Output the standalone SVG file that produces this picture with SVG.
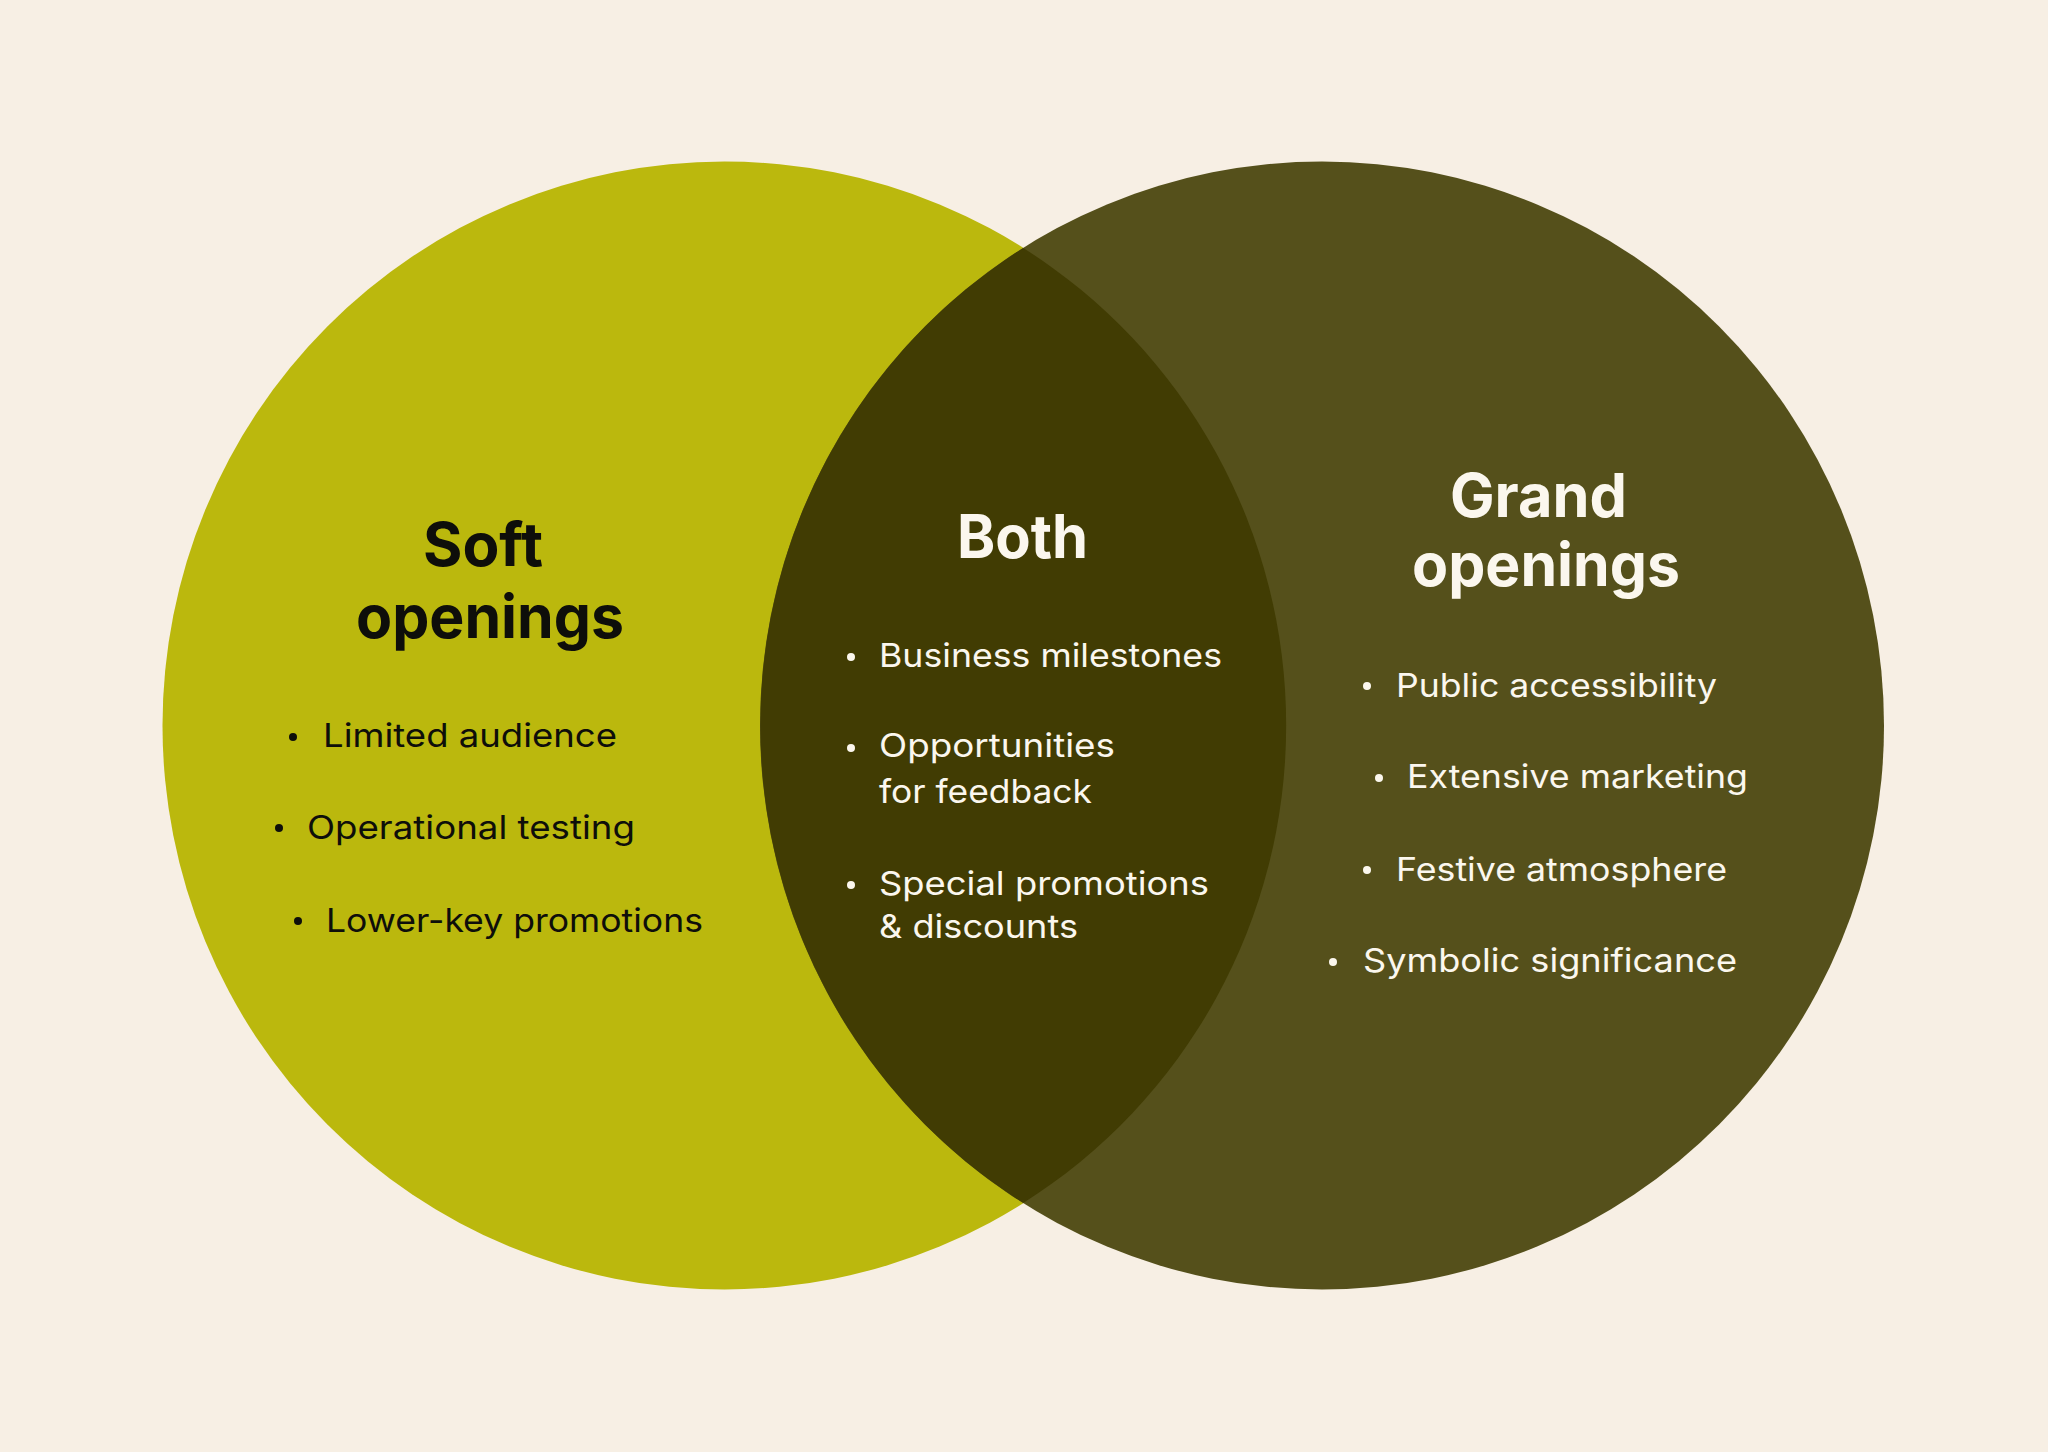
<svg xmlns="http://www.w3.org/2000/svg" width="2048" height="1452" viewBox="0 0 2048 1452">
<style>
.title{font-family:"Inter","Liberation Sans",Arial,sans-serif;font-weight:700;font-size:60px}
.item{font-family:"Inter","Liberation Sans",Arial,sans-serif;font-weight:400;font-size:33px}
.dark{fill:#0e0e0a}
.light{fill:#fbf7ee}
</style>
<rect x="0" y="0" width="2048" height="1452" fill="#f7efe4"/>
<g id="soft-openings">
<ellipse cx="724.5" cy="725.5" rx="562" ry="564" fill="#bbb80d"/>
</g>
<g id="grand-openings">
<ellipse cx="1322" cy="725.5" rx="562" ry="564" fill="#55501b"/>
</g>
<g id="both">
<path d="M1023.25,248 A562,564 0 0 1 1023.25,1203 A562,564 0 0 1 1023.25,248 Z" fill="#413c03"/>
</g>
<g id="connectors"/>
<g id="soft-text">
<text class="title dark" x="423" y="566" textLength="120" lengthAdjust="spacingAndGlyphs">Soft</text>
<text class="title dark" x="356" y="638" textLength="268" lengthAdjust="spacingAndGlyphs">openings</text>
<circle class="dark" cx="293" cy="737" r="4"/>
<text class="item dark" x="323" y="747" textLength="294" lengthAdjust="spacingAndGlyphs">Limited audience</text>
<circle class="dark" cx="279" cy="828" r="4"/>
<text class="item dark" x="307" y="839" textLength="328" lengthAdjust="spacingAndGlyphs">Operational testing</text>
<circle class="dark" cx="298" cy="921" r="4"/>
<text class="item dark" x="326" y="932" textLength="377" lengthAdjust="spacingAndGlyphs">Lower-key promotions</text>
</g>
<g id="both-text">
<text class="title light" x="957" y="558" textLength="131" lengthAdjust="spacingAndGlyphs">Both</text>
<circle class="light" cx="851" cy="657" r="4"/>
<text class="item light" x="879" y="667" textLength="343" lengthAdjust="spacingAndGlyphs">Business milestones</text>
<circle class="light" cx="851" cy="748" r="4"/>
<text class="item light" x="879" y="757" textLength="236" lengthAdjust="spacingAndGlyphs">Opportunities</text>
<text class="item light" x="879" y="803" textLength="213" lengthAdjust="spacingAndGlyphs">for feedback</text>
<circle class="light" cx="851" cy="885" r="4"/>
<text class="item light" x="879" y="895" textLength="330" lengthAdjust="spacingAndGlyphs">Special promotions</text>
<text class="item light" x="879" y="938" textLength="199" lengthAdjust="spacingAndGlyphs">&amp; discounts</text>
</g>
<g id="grand-text">
<text class="title light" x="1450" y="517" textLength="177" lengthAdjust="spacingAndGlyphs">Grand</text>
<text class="title light" x="1412" y="586" textLength="268" lengthAdjust="spacingAndGlyphs">openings</text>
<circle class="light" cx="1367" cy="686" r="4"/>
<text class="item light" x="1396" y="697" textLength="321" lengthAdjust="spacingAndGlyphs">Public accessibility</text>
<circle class="light" cx="1379" cy="778" r="4"/>
<text class="item light" x="1407" y="788" textLength="341" lengthAdjust="spacingAndGlyphs">Extensive marketing</text>
<circle class="light" cx="1367" cy="870" r="4"/>
<text class="item light" x="1396" y="881" textLength="331" lengthAdjust="spacingAndGlyphs">Festive atmosphere</text>
<circle class="light" cx="1333" cy="962" r="4"/>
<text class="item light" x="1363" y="972" textLength="374" lengthAdjust="spacingAndGlyphs">Symbolic significance</text>
</g>
</svg>
